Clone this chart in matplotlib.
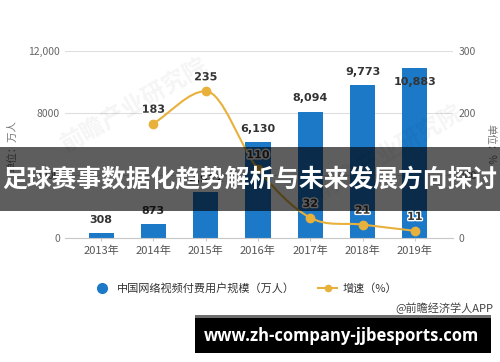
import matplotlib
matplotlib.use('Agg')
import matplotlib.pyplot as plt
from matplotlib.path import Path
from matplotlib.patches import PathPatch, Rectangle
from matplotlib.lines import Line2D
import matplotlib.patheffects as pe

# ---- data ----
years = ['2013年', '2014年', '2015年', '2016年', '2017年', '2018年', '2019年']
users = [308, 873, 2922, 6130, 8094, 9773, 10883]
user_labels = ['308', '873', '2,922', '6,130', '8,094', '9,773', '10,883']
growth_idx = [1, 2, 3, 4, 5, 6]
growth = [183, 235, 110, 32, 21, 11]
left_ticks = [0, 4000, 8000, 12000]
left_tick_labels = ['0', '4000', '8000', '12,000']
right_ticks = [0, 100, 200, 300]
right_tick_labels = ['0', '100', '200', '300']

BLUE = '#1c79c8'
ORANGE = '#e8b13c'

plt.rcParams['font.family'] = ['Noto Sans CJK SC', 'DejaVu Sans']

fig = plt.figure(figsize=(5, 3.62), dpi=100)
fig.patch.set_facecolor('white')
ax = fig.add_axes([0.13, 0.3434, 0.776, 0.5166])

x = list(range(len(years)))
ax.bar(x, users, width=0.48, color=BLUE, zorder=2)
ax.set_xlim(-0.69, 6.73)
ax.set_ylim(0, 12000)
ax.set_yticks(left_ticks)
ax.set_yticklabels(left_tick_labels)
ax.set_xticks(x)
ax.set_xticklabels(years)
ax.yaxis.grid(True, color='#dedede', lw=0.8)
ax.set_axisbelow(True)
for s in ['left', 'right', 'top']:
    ax.spines[s].set_visible(False)
ax.spines['bottom'].set_color('#c8c8c8')
ax.tick_params(axis='y', length=0, pad=3.6, labelsize=7.5, labelcolor='#666666')
ax.tick_params(axis='x', length=2.5, color='#c8c8c8', pad=3.5, labelsize=8, labelcolor='#555555')

for xi, v, lab in zip(x, users, user_labels):
    off = 9.5 if v < 10000 else -10
    ax.annotate(lab, (xi, v), xytext=(0, off), textcoords='offset points',
                ha='center', va='center', fontsize=8, fontweight='bold',
                color='#333333', family='DejaVu Sans', zorder=5,
                annotation_clip=False)

ax2 = ax.twinx()
ax2.set_ylim(0, 300)
ax2.set_yticks(right_ticks)
ax2.set_yticklabels(right_tick_labels)
for s in ['left', 'right', 'top', 'bottom']:
    ax2.spines[s].set_visible(False)
ax2.tick_params(axis='y', length=0, pad=4.3, labelsize=7.5, labelcolor='#666666')

# smooth (monotone cubic) path through the growth points
n = len(growth)
d = [(growth[i + 1] - growth[i]) / (growth_idx[i + 1] - growth_idx[i]) for i in range(n - 1)]
m = [d[0]] + [0.0 if d[i - 1] * d[i] <= 0 else (d[i - 1] + d[i]) / 2 for i in range(1, n - 1)] + [d[-1]]
verts = [(growth_idx[0], growth[0])]
codes = [Path.MOVETO]
for i in range(n - 1):
    h = growth_idx[i + 1] - growth_idx[i]
    verts += [(growth_idx[i] + h / 3, growth[i] + m[i] * h / 3),
              (growth_idx[i + 1] - h / 3, growth[i + 1] - m[i + 1] * h / 3),
              (growth_idx[i + 1], growth[i + 1])]
    codes += [Path.CURVE4] * 3
ax2.add_patch(PathPatch(Path(verts, codes), facecolor='none', edgecolor=ORANGE, lw=1.5, zorder=3))
ax2.plot(growth_idx, growth, 'o', color=ORANGE, ms=6, zorder=4)
for xi, v in zip(growth_idx, growth):
    ax2.annotate(str(v), (xi, v), xytext=(0, 10), textcoords='offset points',
                 ha='center', va='center', fontsize=8, fontweight='bold',
                 color='#333333', family='DejaVu Sans', zorder=5,
                 path_effects=[pe.withStroke(linewidth=2, foreground='white')])

# axis titles
fig.text(0.024, 0.597, '单位：万人', rotation=90, ha='center', va='center',
         fontsize=7.5, color='#777777')
fig.text(0.98, 0.6, '单位：%', rotation=-90, ha='center', va='center',
         fontsize=7.5, color='#777777')

# watermarks
for (wx, wy) in [(0.27, 0.71), (0.78, 0.58)]:
    fig.text(wx, wy, '前瞻产业研究院', rotation=30, ha='center', va='center',
             fontsize=17, color='#000000', alpha=0.045, fontweight='bold')

# legend
fig.add_artist(Line2D([0.204], [0.2044], marker='o', ms=7, color=BLUE,
                      transform=fig.transFigure))
fig.text(0.234, 0.2044, '中国网络视频付费用户规模（万人）', ha='left', va='center',
         fontsize=8, color='#333333')
fig.add_artist(Line2D([0.636, 0.674], [0.2044, 0.2044], color=ORANGE, lw=1.5,
                      transform=fig.transFigure))
fig.add_artist(Line2D([0.655], [0.2044], marker='o', ms=4.5, color=ORANGE,
                      transform=fig.transFigure))
fig.text(0.686, 0.2044, '增速（%）', ha='left', va='center', fontsize=8, color='#333333')
fig.text(0.986, 0.149, '@前瞻经济学人APP', ha='right', va='center', fontsize=8, color='#444444')

# overlay banner
fig.add_artist(Rectangle((0, 0.417), 1, 0.177, transform=fig.transFigure,
                         facecolor='black', edgecolor='none', alpha=0.63, zorder=10))
fig.text(0.5, 0.5055, '足球赛事数据化趋势解析与未来发展方向探讨', ha='center', va='center',
         fontsize=17.8, fontweight='bold', color='white', zorder=11)

# bottom url box
fig.add_artist(Rectangle((0.39, 0.1215), 0.592, 0.0083, transform=fig.transFigure,
                         facecolor='#6e6e6e', edgecolor='none', zorder=10))
fig.add_artist(Rectangle((0.39, 0.0249), 0.592, 0.0967, transform=fig.transFigure,
                         facecolor='black', edgecolor='none', zorder=10))
fig.text(0.683, 0.0718, 'www.zh-company-jjbesports.com', ha='center', va='center',
         fontsize=12, fontweight='bold', color='white', family='Open Sans', zorder=11)

fig.savefig('out.png', dpi=100)
